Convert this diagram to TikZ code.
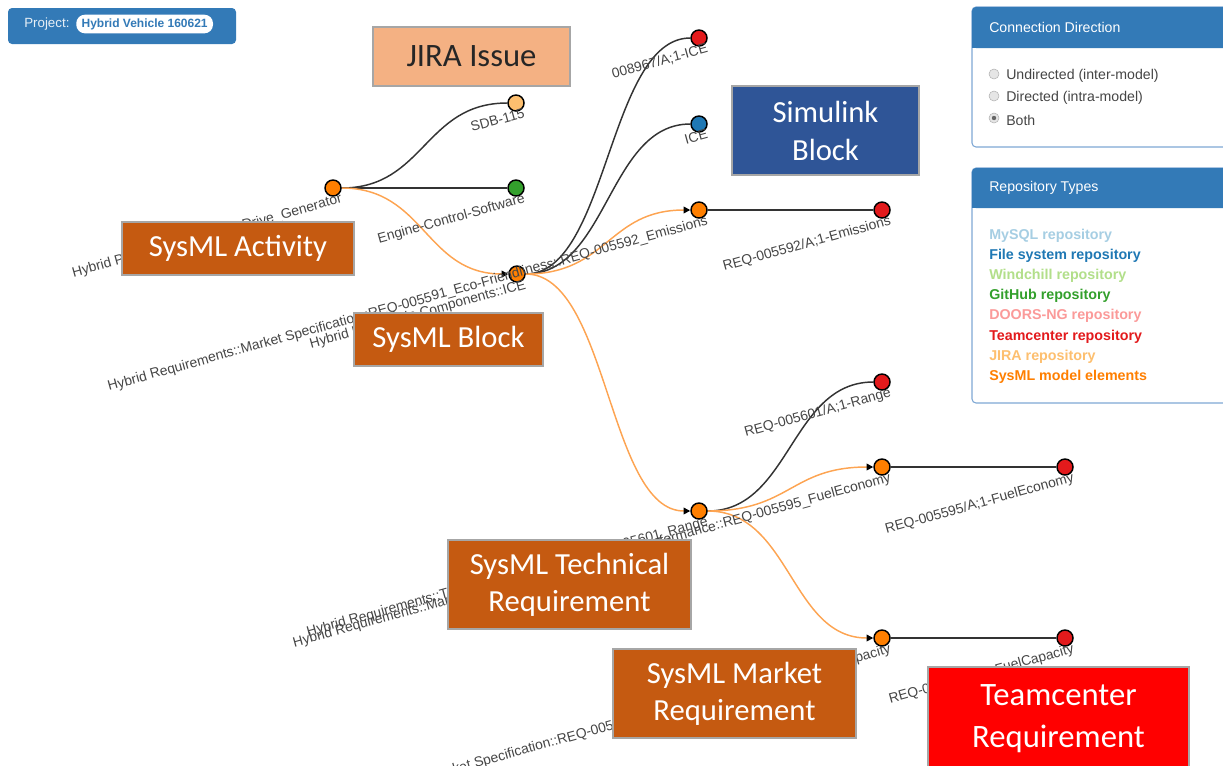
\documentclass[tikz,border=0pt]{standalone}
\usepackage{fontspec}
\setmainfont{Liberation Sans}
\newfontfamily\calfont{Carlito}
\usetikzlibrary{arrows.meta,backgrounds}
\definecolor{bsblue}{HTML}{337AB7}
\definecolor{panelborder}{HTML}{7FA8D4}
\definecolor{lblgray}{HTML}{454545}
\definecolor{linkblack}{HTML}{333333}
\definecolor{linkorange}{HTML}{FDA452}
\definecolor{cred}{HTML}{E31A1C}
\definecolor{cblue}{HTML}{1F78B4}
\definecolor{cgreen}{HTML}{33A02C}
\definecolor{cpeach}{HTML}{FDBF6F}
\definecolor{corange}{HTML}{FF7F00}
\definecolor{cmysql}{HTML}{A6CEE3}
\definecolor{cwind}{HTML}{B2DF8A}
\definecolor{cdoors}{HTML}{FB9A99}
\definecolor{jirafill}{HTML}{F4B183}
\definecolor{simfill}{HTML}{2F5597}
\definecolor{sysfill}{HTML}{C55A11}
\definecolor{tcfill}{HTML}{FF0000}
\begin{document}
\begin{tikzpicture}[x=0.75pt,y=-0.75pt,
  lbl/.style={font=\fontsize{10.4}{12}\selectfont, text=lblgray, anchor=north east, rotate=15.5, inner sep=0pt},
  dot/.style={circle, draw=black, line width=1.1pt, minimum size=12pt, inner sep=0pt},
  blink/.style={draw=linkblack, line width=1.1pt},
  olink/.style={draw=linkorange, line width=1.1pt, -{Triangle[length=5pt,width=5pt,color=black]}},
  anno/.style={draw=black!35, line width=0.8pt, align=center, inner sep=0pt, text=white},
  ptext/.style={font=\fontsize{10.6}{12}\selectfont, anchor=west, inner sep=0pt},
  rtext/.style={font=\bfseries\fontsize{10.7}{12}\selectfont, anchor=west, inner sep=0pt},
  radio/.style={circle, draw=black!30, fill=black!10, minimum size=7.5pt, inner sep=0pt}
]
\useasboundingbox (0,0) rectangle (1223,765);

% project badge
\fill[bsblue, rounded corners=3pt] (8,8) rectangle (236,44);
\node[anchor=west, inner sep=0pt, text=white!88!bsblue, font=\fontsize{10}{11}\selectfont] (projlbl) at (24,24) {Project:};
\node[fill=white, rounded corners=6.5pt, minimum height=14pt, inner xsep=4pt, inner ysep=0pt, text=bsblue, font=\bfseries\fontsize{9}{10}\selectfont, anchor=west] (projname) at (76,24) {Hybrid Vehicle 160621};

% panels
\begin{scope}
\clip (0,0) rectangle (1223,765);
\draw[panelborder, line width=0.8pt, fill=white, rounded corners=3pt] (972,7) rectangle (1240,147);
\fill[bsblue, rounded corners=3pt] (972,7) rectangle (1240,48);
\fill[bsblue] (972,30) rectangle (1240,48);
\node[ptext, text=white] (cdhead) at (989,27) {Connection Direction};
\node[radio] (ra) at (994,74) {};
\node[radio] (rb) at (994,96) {};
\node[radio] (rc) at (994,118) {};
\fill[black!60] (rc.center) circle (2.2);
\node[ptext, text=lblgray] (ta) at (1006,76) {Undirected (inter-model)};
\node[ptext, text=lblgray] (tb) at (1006,98) {Directed (intra-model)};
\node[ptext, text=lblgray] (tc) at (1006,120) {Both};

\draw[panelborder, line width=0.8pt, fill=white, rounded corners=3pt] (972,168) rectangle (1240,403);
\fill[bsblue, rounded corners=3pt] (972,168) rectangle (1240,208);
\fill[bsblue] (972,190) rectangle (1240,208);
\node[ptext, text=white] (rthead) at (989,188) {Repository Types};
\node[rtext, text=cmysql] (t1) at (989,236) {MySQL repository};
\node[rtext, text=cblue] (t2) at (989,256) {File system repository};
\node[rtext, text=cwind] (t3) at (989,276) {Windchill repository};
\node[rtext, text=cgreen] (t4) at (989,296) {GitHub repository};
\node[rtext, text=cdoors] (t5) at (989,316) {DOORS-NG repository};
\node[rtext, text=cred] (t6) at (989,337) {Teamcenter repository};
\node[rtext, text=cpeach] (t7) at (989,357) {JIRA repository};
\node[rtext, text=corange] (t8) at (989,377) {SysML model elements};
\end{scope}

% tree nodes
\node[dot, fill=corange] (dg) at (333,188) {};
\node[dot, fill=cpeach] (sdb) at (516,103) {};
\node[dot, fill=cgreen] (ecs) at (516,188) {};
\node[dot, fill=corange] (ice) at (517,274) {};
\node[dot, fill=cred] (r1) at (699,38) {};
\node[dot, fill=cblue] (sl) at (699,124) {};
\node[dot, fill=corange] (em) at (699,210) {};
\node[dot, fill=cred] (r2) at (882,210) {};
\node[dot, fill=corange] (rng) at (699,511) {};
\node[dot, fill=cred] (r3) at (882,382) {};
\node[dot, fill=corange] (fe) at (882,467) {};
\node[dot, fill=cred] (r4) at (1065,467) {};
\node[dot, fill=corange] (fc) at (882,638) {};
\node[dot, fill=cred] (r5) at (1065,638) {};

% labels
\node[lbl] (ldg) at ([shift={(7,4.5)}]dg.center) {Hybrid Powertrain Behavior::Drive\_Generator};
\node[lbl] (lsdb) at ([shift={(7,4.5)}]sdb.center) {SDB-115};
\node[lbl] (lecs) at ([shift={(7,4.5)}]ecs.center) {Engine-Control-Software};
\node[lbl] (lice) at ([shift={(7,4.5)}]ice.center) {Hybrid Powertrain Components::ICE};
\node[lbl] (lr1) at ([shift={(7,4.5)}]r1.center) {008967/A;1-ICE};
\node[lbl] (lsl) at ([shift={(7,4.5)}]sl.center) {ICE};
\node[lbl] (lem) at ([shift={(7,4.5)}]em.center) {Hybrid Requirements::Market Specification::REQ-005591\_Eco-Friendliness::REQ-005592\_Emissions};
\node[lbl] (lr2) at ([shift={(7,4.5)}]r2.center) {REQ-005592/A;1-Emissions};
\node[lbl] (lrng) at ([shift={(7,4.5)}]rng.center) {Hybrid Requirements::Technical Specification::REQ-005601\_Range};
\node[lbl] (lr3) at ([shift={(7,4.5)}]r3.center) {REQ-005601/A;1-Range};
\node[lbl] (lfe) at ([shift={(7,4.5)}]fe.center) {Hybrid Requirements::Market Specification::REQ-005594\_Performance::REQ-005595\_FuelEconomy};
\node[lbl] (lr4) at ([shift={(7,4.5)}]r4.center) {REQ-005595/A;1-FuelEconomy};
\node[lbl] (lfc) at ([shift={(7,4.5)}]fc.center) {Hybrid Requirements::Market Specification::REQ-005594\_Performance::REQ-005596\_FuelCapacity};
\node[lbl] (lr5) at ([shift={(7,4.5)}]r5.center) {REQ-005596/A;1-FuelCapacity};

% links
\begin{scope}[on background layer]
\draw[blink] (dg) .. controls +(91.5,0) and +(-91.5,0) .. (sdb);
\draw[blink] (dg) -- (ecs);
\draw[olink] (dg) .. controls +(92,0) and +(-92,0) .. (ice);
\draw[blink] (ice) .. controls +(91,0) and +(-91,0) .. (r1);
\draw[blink] (ice) .. controls +(91,0) and +(-91,0) .. (sl);
\draw[olink] (ice) .. controls +(91,0) and +(-91,0) .. (em);
\draw[olink] (ice) .. controls +(91,0) and +(-91,0) .. (rng);
\draw[blink] (em) -- (r2);
\draw[blink] (rng) .. controls +(91.5,0) and +(-91.5,0) .. (r3);
\draw[olink] (rng) .. controls +(91.5,0) and +(-91.5,0) .. (fe);
\draw[olink] (rng) .. controls +(91.5,0) and +(-91.5,0) .. (fc);
\draw[blink] (fe) -- (r4);
\draw[blink] (fc) -- (r5);
\end{scope}

% annotation boxes
\node[anno, fill=jirafill, text=black!85, minimum width=147.75pt, minimum height=44.25pt, font=\calfont\fontsize{24.5}{30}\selectfont] (jira) at (471.5,56.5) {JIRA Issue};
\node[anno, fill=simfill, minimum width=140.25pt, minimum height=66.75pt, font=\calfont\fontsize{23}{28.5}\selectfont] (simu) at (825.5,130.5) {Simulink\\Block};
\node[anno, fill=sysfill, minimum width=174pt, minimum height=39.75pt, font=\calfont\fontsize{23}{28.5}\selectfont] (act) at (238,248.5) {SysML Activity};
\node[anno, fill=sysfill, minimum width=141.75pt, minimum height=39.75pt, font=\calfont\fontsize{23}{28.5}\selectfont] (blk) at (448.5,339.5) {SysML Block};
\node[anno, fill=sysfill, minimum width=182.25pt, minimum height=66.75pt, font=\calfont\fontsize{23}{28}\selectfont] (tech) at (569.5,584.5) {SysML Technical\\Requirement};
\node[anno, fill=sysfill, minimum width=182.25pt, minimum height=66.75pt, font=\calfont\fontsize{23}{28}\selectfont] (mkt) at (734.5,693.5) {SysML Market\\Requirement};
\node[anno, fill=tcfill, minimum width=195.75pt, minimum height=77.25pt, font=\calfont\fontsize{24.5}{32}\selectfont] (tc) at (1058.5,718.5) {Teamcenter\\Requirement};
\end{tikzpicture}
\end{document}
